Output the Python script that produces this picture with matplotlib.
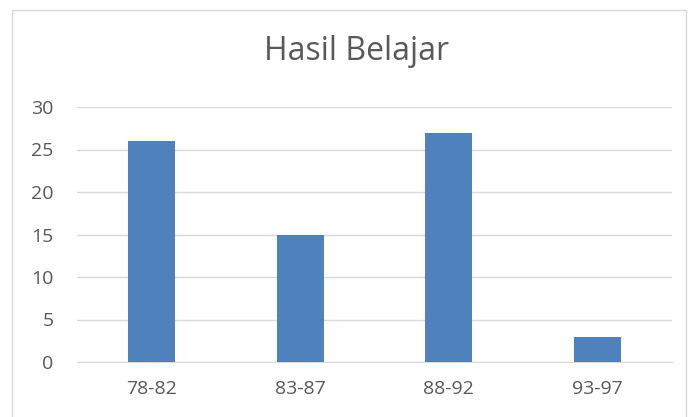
import numpy as np
import matplotlib.pyplot as plt
from matplotlib.patches import Rectangle

categories = ["78-82", "83-87", "88-92", "93-97"]
values = [26, 15, 27, 3]
yticks = [0, 5, 10, 15, 20, 25, 30]

BAR = "#4F81BD"
TEXT = "#595959"
GRID = "#D9D9D9"
BORDER = "#D9D9D9"

plt.rcParams["font.family"] = ["Open Sans", "DejaVu Sans"]

W, H = 688, 417
fig = plt.figure(figsize=(W / 100, H / 100), dpi=100)
fig.patch.set_facecolor("white")

# chart border (Excel chart area), bottom edge falls outside the image
fig.add_artist(Rectangle((12 / W, -0.05), (686 - 12) / W, 1.05 - 10 / H,
                         transform=fig.transFigure, fill=False,
                         edgecolor=BORDER, linewidth=1.0))

ax = fig.add_axes([77 / W, (H - 362) / H, (672 - 77) / W, (362 - 107) / H])
x = np.arange(len(categories))
ax.bar(x, values, width=0.315, color=BAR, zorder=3)

ax.set_xlim(-0.5, len(categories) - 0.5)
ax.set_ylim(0, 30)
ax.set_yticks(yticks)
ax.set_xticks(x)
ax.set_xticklabels(categories)
ax.grid(axis="y", color=GRID, linewidth=1.0, zorder=0)
for s in ("top", "right", "left"):
    ax.spines[s].set_visible(False)
ax.spines["bottom"].set_color(GRID)
ax.tick_params(length=0, colors=TEXT, labelsize=14)
ax.tick_params(axis="y", pad=17)
ax.tick_params(axis="x", pad=13)

fig.text(357 / W, 1 - 52 / H, "Hasil Belajar", ha="center", va="center",
         fontsize=23, color=TEXT)

fig.savefig("out.png", dpi=100)
